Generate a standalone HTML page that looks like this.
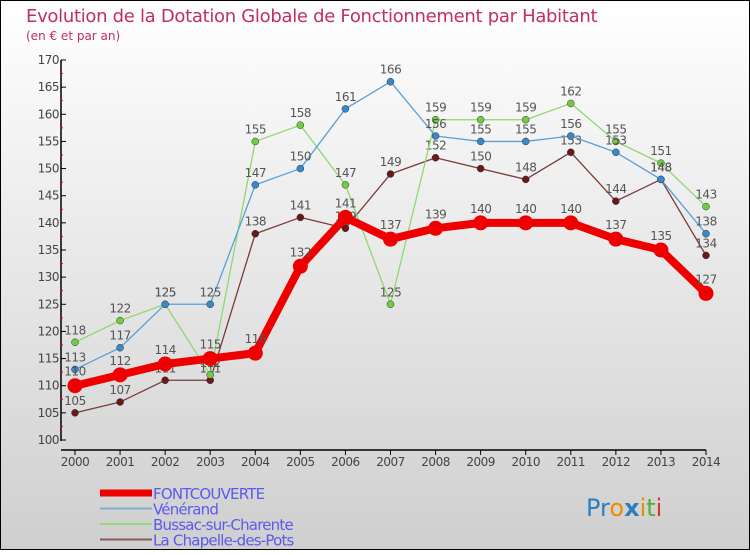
<!DOCTYPE html>
<html><head><meta charset="utf-8"><style>
body{margin:0}
svg text{font-family:"DejaVu Sans","Liberation Sans",sans-serif}
</style></head><body>
<svg id="c" width="750" height="550" xmlns="http://www.w3.org/2000/svg">
<defs><linearGradient id="bg" x1="0" y1="0" x2="0" y2="1"><stop offset="0" stop-color="#ffffff"/><stop offset="1" stop-color="#cfcfcf"/></linearGradient></defs>
<rect x="0.5" y="0.5" width="749" height="549" fill="url(#bg)" stroke="#000"/>
<text x="26" y="22" font-size="18" fill="#c0305a" letter-spacing="-0.3">Evolution de la Dotation Globale de Fonctionnement par Habitant</text>
<text x="26" y="40" font-size="12" fill="#c0305a">(en € et par an)</text>
<g id="axes"></g><g id="series"></g><g id="legend"></g>
<text x="586" y="516" font-size="24"><tspan fill="#2a7fc0">Pr</tspan><tspan fill="#f08a00">o</tspan><tspan fill="#2a7fc0" font-weight="bold">x</tspan><tspan fill="#f08a00">i</tspan><tspan fill="#50b030">t</tspan><tspan fill="#e03030">i</tspan></text>
</svg>
<script>
const years=[2000,2001,2002,2003,2004,2005,2006,2007,2008,2009,2010,2011,2012,2013,2014];
const yTicks=[100,105,110,115,120,125,130,135,140,145,150,155,160,165,170];
const fontcouverte=[110,112,114,115,116,132,141,137,139,140,140,140,137,135,127];
const venerand=[113,117,125,125,147,150,161,166,156,155,155,156,153,148,138];
const bussac=[118,122,125,112,155,158,147,125,159,159,159,162,155,151,143];
const chapelle=[105,107,111,111,138,141,139,149,152,150,148,153,144,148,134];
const names=["FONTCOUVERTE","Vénérand","Bussac-sur-Charente","La Chapelle-des-Pots"];
const NS="http://www.w3.org/2000/svg";
const X=i=>75+i*(631/14);
const Y=v=>440-(v-100)*(380/70);
function mk(tag,at,parent){const e=document.createElementNS(NS,tag);for(const k in at)e.setAttribute(k,at[k]);parent.appendChild(e);return e;}
const ax=document.getElementById('axes');
let l=mk('line',{x1:61,y1:60,x2:61,y2:441,stroke:'#000','stroke-width':1.5},ax);


l=mk('line',{x1:61,y1:450,x2:706,y2:450,stroke:'#000','stroke-width':1.5},ax);


yTicks.forEach((v,i)=>{
  mk('line',{x1:61,y1:Y(v),x2:66,y2:Y(v),stroke:'#000'},ax);
  if(i<yTicks.length-1)mk('line',{x1:60,y1:Y(v+2.5),x2:63,y2:Y(v+2.5),stroke:'#e00'},ax);
  const t=mk('text',{x:59,y:Y(v)+4,'font-size':12,'text-anchor':'end',fill:'#444','letter-spacing':'-0.5'},ax);
  t.textContent=v;
  
  
});
years.forEach((y,i)=>{
  mk('line',{x1:X(i),y1:450,x2:X(i),y2:455,stroke:'#000'},ax);
  const t=mk('text',{x:X(i),y:466,'font-size':12,'text-anchor':'middle',fill:'#444','letter-spacing':'-0.5'},ax);
  t.textContent=y;
  
  
});
const S=document.getElementById('series');
function draw(vals,color,dot,w,r,name){
  const g=mk('g',{},S);
  
  
  const p=mk('polyline',{points:vals.map((v,i)=>X(i)+','+Y(v)).join(' '),fill:'none',stroke:color,'stroke-width':w,'stroke-linejoin':'round'},g);
  
  
  vals.forEach((v,i)=>{
    const c=mk('circle',{cx:X(i),cy:Y(v),r:r,fill:dot,stroke:w>3?'none':'#333','stroke-width':0.5},g);
    
    
    const t=mk('text',{x:X(i),y:Y(v)-(w>3?10:8),'font-size':12,'text-anchor':'middle',fill:'#555','letter-spacing':'-0.5'},g);
    t.textContent=v;
    
    
  });
}
draw(chapelle,'#7a3a3a','#6a1818',1.3,3.5,'series-la-chapelle');
draw(bussac,'#90d870','#70cc40',1.3,3.5,'series-bussac');
draw(venerand,'#5aa0d8','#3a88c8',1.3,3.5,'series-venerand');
draw(fontcouverte,'#ee0000','#ee0000',8,7.5,'series-fontcouverte');
const L=document.getElementById('legend');
const lc=['#ee0000','#80aed0','#98d878','#8a5a5a'],lw=[7,2,2,2];
names.forEach((n,i)=>{
  const y=493+i*15.5;
  const s=mk('line',{x1:100,y1:y,x2:152,y2:y,stroke:lc[i],'stroke-width':lw[i]},L);
  
  
  const t=mk('text',{x:153,y:y+6,'font-size':15,fill:'#5a5aee','letter-spacing':'-0.8'},L);
  t.textContent=n;
  
  
});
</script>
</body></html>
